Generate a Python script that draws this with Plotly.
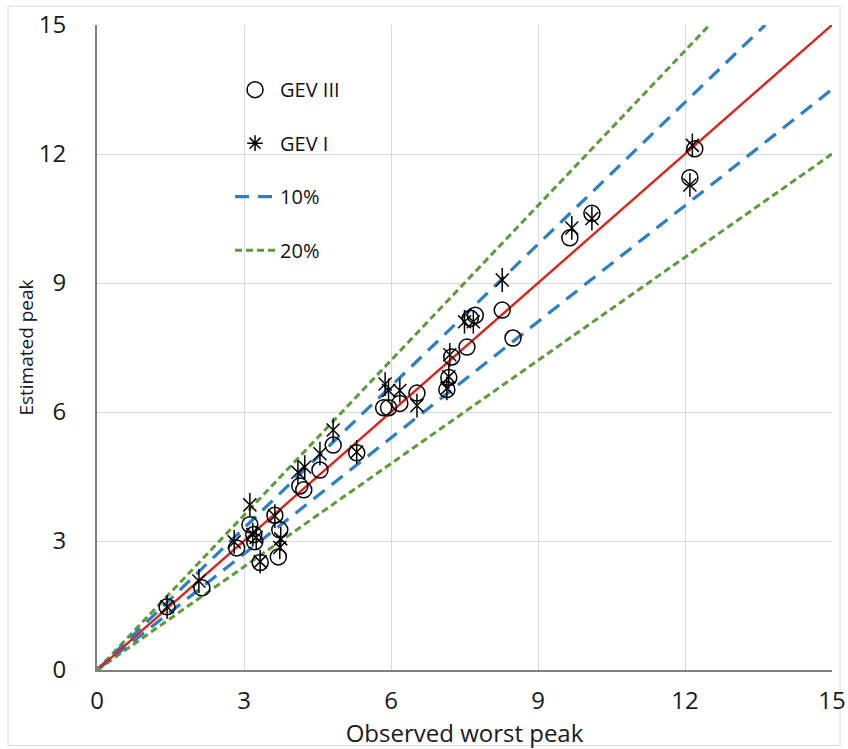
import plotly.graph_objects as go

# GEV III estimates (open circles)
gev3_obs = [1.43, 2.14, 2.85, 3.12, 3.20, 3.22, 3.33, 3.63, 3.73, 3.70, 4.14, 4.22,
            4.55, 4.82, 5.30, 5.85, 5.95, 6.18, 6.53, 7.14, 7.18, 7.24, 7.55, 7.62,
            7.72, 8.27, 8.49, 9.65, 10.10, 12.10, 12.20]
gev3_est = [1.47, 1.91, 2.84, 3.38, 3.15, 2.98, 2.50, 3.60, 3.26, 2.63, 4.28, 4.19,
            4.65, 5.23, 5.05, 6.10, 6.10, 6.20, 6.44, 6.52, 6.80, 7.28, 7.51, 8.18,
            8.25, 8.37, 7.72, 10.05, 10.62, 11.45, 12.12]

# GEV I estimates (stars)
gev1_obs = [1.43, 2.08, 2.80, 3.12, 3.18, 3.25, 3.33, 3.63, 3.73, 3.75, 4.10, 4.24,
            4.55, 4.82, 5.30, 5.88, 5.95, 6.18, 6.53, 7.14, 7.18, 7.20, 7.50, 7.68,
            8.27, 9.69, 10.10, 12.10, 12.15]
gev1_est = [1.47, 2.07, 2.98, 3.84, 3.15, 3.08, 2.52, 3.58, 2.85, 3.05, 4.60, 4.72,
            5.03, 5.58, 5.07, 6.65, 6.50, 6.50, 6.15, 6.55, 6.82, 7.33, 8.10, 8.10,
            9.07, 10.28, 10.50, 11.28, 12.20]

axis_max = 15
ticks = [0, 3, 6, 9, 12, 15]
band_10 = [1.1, 0.9]
band_20 = [1.2, 0.8]

RED = "#D9261C"
BLUE = "#2A7FC6"
GREEN = "#5F9A3A"
FONT = "Open Sans"


def ratio_line(r):
    """Line y = r*x from the origin, clipped to the axis box."""
    x_end = min(axis_max, axis_max / r)
    return [0, x_end], [0, r * x_end]


fig = go.Figure()

# 20% band
for i, r in enumerate(band_20):
    xs, ys = ratio_line(r)
    fig.add_trace(go.Scatter(
        x=xs, y=ys, mode="lines", name="20%",
        line=dict(color=GREEN, width=3, dash="7px,4px"),
        legendgroup="g20", showlegend=(i == 0), legendrank=4))

# 10% band
for i, r in enumerate(band_10):
    xs, ys = ratio_line(r)
    fig.add_trace(go.Scatter(
        x=xs, y=ys, mode="lines", name="10%",
        line=dict(color=BLUE, width=3.2, dash="14px,9px"),
        legendgroup="g10", showlegend=(i == 0), legendrank=3))

# 1:1 line
xs, ys = ratio_line(1.0)
fig.add_trace(go.Scatter(x=xs, y=ys, mode="lines", line=dict(color=RED, width=2.4),
                         showlegend=False, hoverinfo="skip"))

# origin marker of the band series
fig.add_trace(go.Scatter(x=xs[:1], y=ys[:1], mode="markers",
                         marker=dict(color=GREEN, size=8), showlegend=False))

# GEV III
fig.add_trace(go.Scatter(
    x=gev3_obs, y=gev3_est, mode="markers", name="GEV III",
    marker=dict(symbol="circle-open", size=16, color="black", line=dict(width=1.5)),
    legendgroup="g3", legendrank=1))

# GEV I: six-armed star from an x plus a vertical bar
fig.add_trace(go.Scatter(
    x=gev1_obs, y=gev1_est, mode="markers", name="GEV I",
    marker=dict(symbol="x-thin-open", size=13, color="black", line=dict(width=1.5)),
    legendgroup="g1", showlegend=False))
fig.add_trace(go.Scatter(
    x=gev1_obs, y=gev1_est, mode="markers", name="GEV I",
    marker=dict(symbol="line-ns-open", size=17, color="black", line=dict(width=1.5)),
    legendgroup="g1", showlegend=False))
fig.add_trace(go.Scatter(
    x=[None], y=[None], mode="markers", name="GEV I",
    marker=dict(symbol="asterisk-open", size=13, color="black", line=dict(width=1.5)),
    legendgroup="g1", legendrank=2))

axis_common = dict(
    range=[0, axis_max], tickvals=ticks, ticktext=[str(t) for t in ticks],
    showgrid=True, gridcolor="#D9D9D9", gridwidth=1,
    showline=True, linecolor="#808080", linewidth=2,
    zeroline=False, ticks="", fixedrange=True, automargin=False,
    tickfont=dict(family=FONT, size=24, color="#1A1A1A"),
)

fig.update_layout(
    width=848, height=749,
    margin=dict(l=97, r=16, t=25, b=79),
    paper_bgcolor="white", plot_bgcolor="white",
    font=dict(family=FONT, color="#1A1A1A"),
    xaxis=dict(**axis_common, ticklabelstandoff=8,
               title=dict(text="Observed worst peak", standoff=0,
                          font=dict(family=FONT, size=24))),
    yaxis=dict(**axis_common, ticklabelstandoff=24,
               title=dict(text="Estimated peak", standoff=0,
                          font=dict(family=FONT, size=19))),
    legend=dict(x=0.181, y=0.930, xanchor="left", yanchor="top",
                bgcolor="rgba(0,0,0,0)", tracegroupgap=24.5,
                font=dict(family=FONT, size=20, color="#111111"),
                itemwidth=40),
    shapes=[dict(type="rect", xref="paper", yref="paper",
                 x0=-0.121, x1=1.011, y0=-0.117, y1=1.029,
                 line=dict(color="#D9D9D9", width=1), layer="below")],
)

fig.write_html("out.html")
